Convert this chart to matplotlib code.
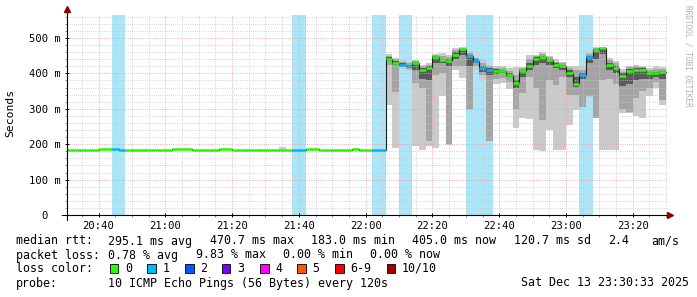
import matplotlib
matplotlib.use('Agg')
import matplotlib.pyplot as plt
from matplotlib.ticker import MultipleLocator, FixedLocator, FixedFormatter

plt.rcParams['font.family'] = ['DejaVu Sans Mono', 'DejaVu Sans']

# time window (minutes are counted from midnight)
FIRST_STEP = '20:30'
STEP_MIN = 2
VIEW_START = '20:30:33'
VIEW_END = '23:30:33'

# median rtt per 2-minute step, ms
MEDIAN = [183, 183, 183, 183, 183, 186, 186, 186, 183, 183, 183, 183, 183, 183, 183, 183,
          186, 186, 186, 183, 183, 183, 183, 186, 186, 183, 183, 183, 183, 183, 183, 183,
          183, 183, 183, 183, 186, 186, 183, 183, 183, 183, 183, 186, 183, 183, 183, 183,
          441, 430, 425, 421, 430, 409, 415, 446, 437, 436, 453, 468, 449, 436, 414, 410,
          407, 407, 396, 374, 406, 421, 442, 446, 437, 423, 421, 402, 370, 395, 446, 465,
          470.7, 423, 416, 393, 407, 410, 410, 400, 400, 405]

# lost pings (of 10) per step
LOSS = [0, 0, 0, 0, 0, 0, 0, 1, 1, 0, 0, 0, 0, 0, 0, 0,
        0, 0, 0, 0, 0, 0, 0, 0, 0, 0, 0, 0, 0, 0, 0, 0,
        0, 0, 1, 1, 0, 0, 0, 0, 0, 0, 0, 0, 0, 0, 1, 1,
        0, 0, 1, 1, 0, 0, 0, 0, 0, 0, 0, 0, 1, 1, 1, 1,
        0, 0, 0, 0, 0, 0, 0, 0, 0, 0, 0, 0, 0, 1, 1, 0,
        0, 0, 0, 0, 0, 0, 0, 0, 0, 0]

# smoke: outer (min/max), second and third ping pairs, ms
LO1 = [183, 183, 183, 183, 183, 186, 186, 186, 183, 183, 183, 183, 183, 183, 183, 183,
       186, 186, 186, 183, 183, 183, 183, 186, 186, 183, 183, 183, 183, 183, 183, 183,
       183, 183, 183, 183, 186, 186, 183, 183, 183, 183, 183, 186, 183, 183, 183, 183,
       310, 190, 413, 408, 195, 185, 195, 190, 335, 198, 410, 386, 297, 410, 380, 208,
       369, 372, 357, 245, 275, 272, 185, 180, 240, 185, 185, 254, 297, 302, 330, 273,
       185, 185, 185, 288, 288, 280, 273, 336, 358, 310]
HI1 = [183, 183, 183, 183, 183, 186, 186, 186, 183, 183, 183, 183, 183, 183, 183, 183,
       186, 186, 186, 183, 183, 183, 183, 186, 186, 183, 183, 183, 183, 183, 183, 183,
       191, 183, 183, 183, 186, 186, 183, 183, 183, 183, 183, 186, 183, 183, 183, 183,
       455, 443, 437, 432, 438, 424, 428, 456, 458, 452, 472, 476, 462, 446, 440, 425,
       420, 420, 415, 417, 418, 452, 452, 461, 450, 440, 432, 420, 421, 420, 460, 476,
       476, 444, 434, 412, 422, 425, 422, 416, 420, 418]
LO2 = [183, 183, 183, 183, 183, 186, 186, 186, 183, 183, 183, 183, 183, 183, 183, 183,
       186, 186, 186, 183, 183, 183, 183, 186, 186, 183, 183, 183, 183, 183, 183, 183,
       183, 183, 183, 183, 186, 186, 183, 183, 183, 183, 183, 186, 183, 183, 183, 183,
       425, 347, 419, 413, 373, 360, 210, 395, 400, 200, 420, 420, 300, 420, 395, 210,
       385, 388, 375, 300, 345, 390, 360, 268, 380, 367, 390, 340, 340, 305, 335, 275,
       380, 385, 370, 300, 290, 330, 350, 360, 375, 325]
HI2 = [183, 183, 183, 183, 183, 186, 186, 186, 183, 183, 183, 183, 183, 183, 183, 183,
       186, 186, 186, 183, 183, 183, 183, 186, 186, 183, 183, 183, 183, 183, 183, 183,
       183, 183, 183, 183, 186, 186, 183, 183, 183, 183, 183, 186, 183, 183, 183, 183,
       448, 440, 432, 428, 436, 420, 425, 453, 450, 446, 465, 473, 458, 444, 430, 420,
       416, 416, 408, 395, 414, 440, 450, 455, 445, 433, 428, 416, 410, 410, 455, 472,
       473, 438, 428, 405, 417, 420, 418, 410, 412, 413]
LO3 = [183, 183, 183, 183, 183, 186, 186, 186, 183, 183, 183, 183, 183, 183, 183, 183,
       186, 186, 186, 183, 183, 183, 183, 186, 186, 183, 183, 183, 183, 183, 183, 183,
       183, 183, 183, 183, 186, 186, 183, 183, 183, 183, 183, 186, 183, 183, 183, 183,
       435, 425, 422, 417, 410, 385, 380, 430, 428, 420, 440, 452, 420, 430, 405, 395,
       398, 400, 390, 360, 390, 410, 425, 430, 425, 415, 410, 390, 362, 385, 430, 440,
       455, 410, 400, 365, 370, 380, 385, 385, 390, 385]
HI3 = [183, 183, 183, 183, 183, 186, 186, 186, 183, 183, 183, 183, 183, 183, 183, 183,
       186, 186, 186, 183, 183, 183, 183, 186, 186, 183, 183, 183, 183, 183, 183, 183,
       183, 183, 183, 183, 186, 186, 183, 183, 183, 183, 183, 186, 183, 183, 183, 183,
       445, 436, 428, 424, 433, 415, 420, 450, 442, 440, 460, 470, 452, 440, 420, 415,
       412, 411, 402, 380, 410, 428, 446, 450, 441, 428, 425, 410, 390, 402, 450, 468,
       471, 430, 420, 400, 412, 415, 414, 405, 405, 408]

X_TICK_LABELS = ['20:40', '21:00', '21:20', '21:40', '22:00', '22:20', '22:40', '23:00', '23:20']
Y_TICKS = [0, 100, 200, 300, 400, 500]
Y_TICK_LABELS = ['0  ', '100 m', '200 m', '300 m', '400 m', '500 m']
Y_TOP = 565

LOSS_COLORS = ['#26ff00', '#00b8ff', '#0059ff', '#7e00ff', '#ff00ff', '#ff5500', '#ff0000', '#a10000']
LOSS_LABELS = ['0', '1', '2', '3', '4', '5', '6-9', '10/10']
LOSS_BG = '#ace4f8'
SMOKE_COLORS = ['#cacaca', '#a4a4a4', '#5a5a5a']

RTT_STATS = [('295.1', 'ms avg'), ('470.7', 'ms max'), ('183.0', 'ms min'),
             ('405.0', 'ms now'), ('120.7', 'ms sd'), ('2.4', ''), ('am/s', '')]
LOSS_STATS = ['0.78 % avg', '9.83 % max', '0.00 % min', '0.00 % now']
PROBE = '10 ICMP Echo Pings (56 Bytes) every 120s'
STAMP = 'Sat Dec 13 23:30:33 2025'


def minutes(s):
    parts = [int(p) for p in s.split(':')]
    while len(parts) < 3:
        parts.append(0)
    return parts[0] * 60 + parts[1] + parts[2] / 60.0


W, H = 697, 297
fig = plt.figure(figsize=(W / 100, H / 100), dpi=100)
ax = fig.add_axes([67 / W, 82 / H, 601 / W, 200 / H])

t0 = minutes(FIRST_STEP)
starts = [t0 + STEP_MIN * i for i in range(len(MEDIAN))]
edges = starts + [starts[-1] + STEP_MIN]


def stepped(vals):
    return list(vals) + [vals[-1]]


# loss background
for s, l in zip(starts, LOSS):
    if l > 0:
        ax.axvspan(s, s + STEP_MIN, color=LOSS_BG, lw=0, zorder=0.5)

# smoke layers, outermost first
for (lo, hi), c in zip([(LO1, HI1), (LO2, HI2), (LO3, HI3)], SMOKE_COLORS):
    ax.fill_between(edges, stepped(lo), stepped(hi), step='post', color=c, lw=0, zorder=1)

# median: thin dark step line plus loss coloured segments
ax.step(edges, stepped(MEDIAN), where='post', color='#202020', lw=0.8, zorder=3)
seg_colors = [LOSS_COLORS[min(l, 6) if l < 10 else 7] for l in LOSS]
ax.hlines(MEDIAN, starts, edges[1:], colors=seg_colors, lw=1.8, zorder=4)

ax.set_xlim(minutes(VIEW_START), minutes(VIEW_END))
ax.set_ylim(0, Y_TOP)

ax.xaxis.set_major_locator(FixedLocator([minutes(s) for s in X_TICK_LABELS]))
ax.xaxis.set_major_formatter(FixedFormatter(X_TICK_LABELS))
ax.xaxis.set_minor_locator(MultipleLocator(5))
ax.yaxis.set_major_locator(FixedLocator(Y_TICKS))
ax.yaxis.set_major_formatter(FixedFormatter(Y_TICK_LABELS))
ax.yaxis.set_minor_locator(MultipleLocator(20))

ax.set_axisbelow(False)
ax.grid(which='minor', color='#c8c8c8', lw=0.72, ls=(0, (0.72, 1.44)))
ax.grid(which='major', color='#eba0a0', lw=0.72, ls=(0, (0.72, 1.44)))

for sp in ax.spines.values():
    sp.set_visible(False)
ax.tick_params(which='major', direction='inout', length=3, width=0.72, color='black',
               labelsize=7.6, pad=3)
ax.tick_params(which='minor', direction='out', length=1.5, width=0.72, color='#909090')

# axis lines with arrow heads
ax.plot([0, 0], [-5 / 200, 1 + 5 / 200], color='black', lw=0.8, transform=ax.transAxes,
        clip_on=False, zorder=5)
ax.plot([-5 / 601, 1], [0, 0], color='black', lw=0.8, transform=ax.transAxes,
        clip_on=False, zorder=5)
ax.plot([0], [1 + 6 / 200], marker='^', ms=4, color='#8b0000', transform=ax.transAxes,
        clip_on=False, zorder=6)
ax.plot([1 + 2 / 601], [0], marker='>', ms=4, color='#8b0000', transform=ax.transAxes,
        clip_on=False, zorder=6)

fig.text(10 / W, 1 - 113 / H, 'Seconds', rotation=90, ha='center', va='center', fontsize=8.2)
fig.text(688 / W, 1 - 5 / H, 'RRDTOOL / TOBI OETIKER', rotation=-90, ha='center', va='top',
         fontsize=5.6, color='#b0b0b0')

# legend block
fs = 8.4
rows = [241, 255, 268, 283]


def put(x, row, s, **kw):
    fig.text(x / W, 1 - row / H, s, ha=kw.pop('ha', 'left'), va='center', fontsize=fs, **kw)


put(16, rows[0], 'median rtt:')
for x, (v, u) in zip([108, 209.5, 311, 412, 513.5, 608, 651], RTT_STATS):
    put(x, rows[0], (v + ' ' + u).strip())

put(16, rows[1], 'packet loss:')
for x, s in zip([108, 196, 283, 370], LOSS_STATS):
    put(x, rows[1], s)

put(16, rows[2], 'loss color:')
box_x = [109.5, 147, 185, 222, 260, 297, 335, 386.5]
for bx, c, lab in zip(box_x, LOSS_COLORS, LOSS_LABELS):
    fig.patches.append(plt.Rectangle((bx / W, 1 - (rows[2] + 4.5) / H), 8.5 / W, 8.5 / H,
                                     facecolor=c, edgecolor='black', lw=0.6,
                                     transform=fig.transFigure, figure=fig))
    put(bx + 15.5, rows[2], lab)

put(16, rows[3], 'probe:')
put(108, rows[3], PROBE)
put(689, rows[3], STAMP, ha='right')

fig.savefig('out.png', dpi=100, facecolor='white')
